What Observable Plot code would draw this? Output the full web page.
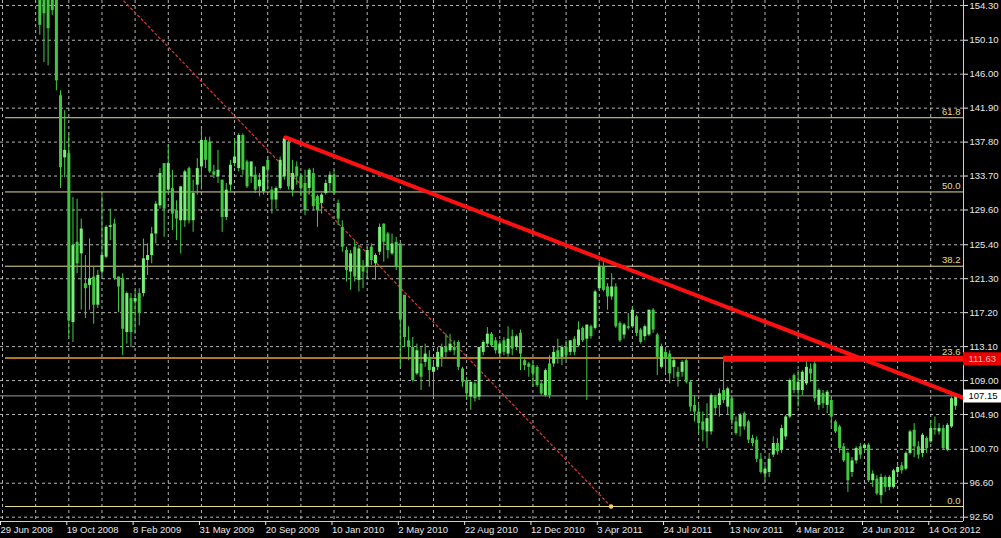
<!DOCTYPE html>
<html>
<head>
<meta charset="utf-8">
<script src="https://cdn.jsdelivr.net/npm/d3@7"></script>
<script src="https://cdn.jsdelivr.net/npm/@observablehq/plot@0.6"></script>
<style>
html, body { margin: 0; padding: 0; background: #000; }
#chart svg { display: block; }
</style>
</head>
<body>
<div id="chart"></div>
<script>
// ---- Data (weekly candles, bar index 0 = week of 29 Jun 2008) ----
const weekStart = "2008-06-29";
const firstIndex = 9;
const opens = [156.5,156.0,155.6,155.5,155.3,143.4,135.9,136.4,116.0,125.7,124.3,120.7,120.5,121.5,118.1,122.1,123.9,127.5,127.9,121.5,121.3,114.8,118.9,118.5,119.5,119.5,123.5,124.1,126.7,130.1,135.2,132.0,132.2,129.5,128.3,128.3,134.6,128.3,132.6,134.8,138.0,137.8,134.2,133.6,133.2,128.7,132.6,135.2,134.6,138.6,135.4,133.6,133.8,132.4,131.8,135.6,132.0,130.8,132.2,133.6,137.8,132.0,134.8,133.6,132.8,132.2,134.0,131.2,130.4,131.6,132.8,133.8,130.4,127.5,124.7,122.1,125.1,121.1,122.7,122.7,125.1,123.1,124.5,127.9,126.7,124.3,125.7,125.5,119.3,113.8,113.0,109.8,111.0,111.2,111.8,110.0,110.6,111.8,113.0,112.6,113.0,113.6,110.4,109.0,107.0,108.6,107.0,112.4,113.4,114.6,113.8,112.2,113.8,112.2,114.3,113.0,114.7,111.4,111.0,110.8,110.6,108.6,107.2,111.0,111.0,112.6,111.8,113.0,112.4,114.0,113.2,115.3,114.0,115.5,115.3,120.1,122.7,120.3,119.1,120.3,115.9,114.5,115.5,115.5,116.7,115.1,114.3,114.5,117.5,114.5,110.6,112.4,112.2,110.6,110.0,110.0,111.4,108.8,106.0,105.2,104.0,102.8,102.8,107.0,106.0,107.8,105.8,106.8,104.0,103.4,105.0,104.0,102.0,101.8,99.5,97.7,97.9,100.0,101.4,100.6,102.2,104.6,109.6,107.8,107.8,108.6,110.4,111.0,106.0,107.4,106.0,106.6,104.0,103.4,101.0,100.2,97.9,99.3,101.0,100.8,101.2,96.9,97.1,95.1,97.3,96.1,96.1,97.9,98.7,98.3,100.2,103.0,101.0,100.2,102.0,101.6,103.2,102.8,103.2,100.6,103.4,105.9];
const highs = [157.0,156.5,156.0,156.0,155.8,144.0,141.6,138.8,131.1,130.9,128.5,124.1,126.1,122.7,122.3,131.3,127.7,129.7,128.5,121.5,121.9,119.7,119.5,119.9,120.1,126.1,125.5,127.5,130.6,134.6,135.2,137.4,134.4,130.7,132.4,134.4,134.8,133.2,135.8,139.4,138.4,138.4,135.0,136.8,133.2,132.8,135.6,138.2,138.8,138.8,135.6,135.4,134.8,134.0,134.8,136.0,132.4,132.4,136.0,138.4,138.0,135.6,135.4,134.0,134.4,134.6,134.6,131.4,131.6,133.2,134.2,134.4,130.8,128.3,125.1,124.7,125.9,125.3,123.5,125.1,125.5,124.3,127.9,127.9,126.9,126.7,126.3,125.5,119.3,115.5,114.2,113.4,113.0,113.4,112.6,111.4,113.0,113.4,114.6,114.6,113.8,113.8,110.6,109.4,108.8,108.8,113.0,113.8,115.4,114.8,114.2,113.8,114.2,115.5,115.1,114.5,115.1,111.6,111.2,111.2,110.8,109.0,110.4,112.0,113.0,114.0,113.2,113.8,113.8,114.3,116.1,115.5,115.7,115.7,119.9,123.3,123.3,120.7,121.9,120.7,116.1,115.9,117.1,117.9,116.9,115.3,115.7,117.5,117.7,114.7,113.4,113.0,112.6,111.8,110.6,111.4,111.6,109.0,107.2,106.0,105.2,106.2,107.4,107.2,108.0,111.4,108.2,107.0,104.6,105.0,105.2,104.2,102.4,102.2,100.2,98.7,100.2,102.2,102.0,103.6,104.8,109.2,109.8,110.2,110.2,111.4,111.0,111.4,108.0,107.8,107.8,106.8,104.2,103.6,101.4,100.4,99.7,101.0,101.4,101.4,101.4,98.1,97.5,97.7,97.5,97.5,98.3,98.9,99.1,100.4,103.0,103.8,101.6,102.6,102.2,104.2,104.6,103.8,103.6,103.8,107.0,107.3];
const lows = [150.7,147.4,147.0,153.1,144.0,132.2,133.5,114.2,113.6,121.9,117.5,116.5,117.5,115.8,117.7,121.5,123.7,125.9,121.1,117.2,112.0,113.4,113.0,114.6,115.6,119.1,121.7,123.1,125.5,129.7,126.3,131.6,127.1,125.9,124.3,127.5,127.9,126.9,131.4,132.0,134.6,134.0,133.4,132.8,126.9,128.3,131.8,134.8,134.2,133.8,132.2,132.8,131.6,131.2,131.4,132.0,129.1,129.7,132.0,133.2,132.0,131.2,132.6,131.2,128.9,131.4,129.5,127.5,129.1,131.4,131.8,131.4,127.7,124.5,120.9,119.9,120.9,119.7,120.1,121.3,122.9,121.1,124.1,123.3,123.7,124.1,122.3,110.6,113.0,111.4,108.8,109.6,107.8,110.6,108.2,107.0,110.2,110.6,111.8,112.4,112.0,110.2,108.2,106.6,105.4,106.4,106.6,112.0,113.0,113.0,112.2,111.6,112.0,111.8,112.0,112.6,110.2,110.2,109.4,108.2,108.2,107.2,107.0,106.8,110.6,111.0,110.8,111.4,112.0,112.0,113.0,113.6,106.6,114.0,115.1,119.9,119.7,117.5,118.7,115.3,113.6,114.0,115.1,115.3,114.3,113.4,113.8,114.3,114.7,109.6,110.4,109.8,108.6,109.2,108.2,109.4,108.6,105.2,104.0,102.6,101.6,100.8,102.4,104.8,104.6,106.2,104.8,103.6,102.4,102.2,103.0,101.4,101.0,99.1,97.7,96.9,97.3,99.7,100.0,100.2,101.8,104.4,107.4,105.8,107.2,108.4,108.8,106.4,105.4,105.6,105.0,103.4,102.6,100.2,99.1,95.5,97.3,98.9,99.5,100.4,96.7,96.1,95.1,94.1,95.5,95.7,95.9,97.5,97.7,98.1,100.0,99.7,99.5,99.7,100.2,101.4,102.4,102.4,100.6,100.4,103.2,105.4];
const closes = [151.9,153.3,151.5,153.7,145.2,134.7,136.8,116.2,125.3,123.1,127.3,120.1,121.3,118.1,121.7,124.1,127.5,127.7,121.3,120.3,115.2,119.5,114.8,118.9,117.1,123.7,124.1,126.7,130.3,134.0,129.7,135.2,129.1,128.5,132.4,134.2,128.3,131.6,134.6,138.0,135.6,134.2,133.8,134.4,128.7,132.0,135.0,136.0,138.6,134.4,132.4,135.4,132.0,133.2,134.8,134.4,130.8,132.2,135.6,138.2,132.4,134.0,133.6,132.2,129.5,134.4,130.0,129.5,131.4,132.8,133.8,131.6,128.5,125.1,122.3,124.3,121.5,124.9,122.1,124.7,123.5,124.1,127.5,125.7,124.7,125.5,122.7,116.3,114.2,113.0,109.0,112.6,109.4,112.2,110.2,110.6,112.4,113.0,112.4,113.4,112.6,110.6,108.8,107.4,108.8,106.8,113.0,113.6,114.6,113.2,112.6,113.4,112.4,114.0,112.8,114.3,112.2,110.8,110.6,109.8,108.4,107.4,110.2,107.2,112.4,111.6,113.0,112.0,113.8,112.4,115.1,113.8,115.7,114.3,119.7,122.7,119.9,119.1,120.3,115.5,113.8,115.7,115.3,117.5,114.7,113.6,115.5,117.5,115.1,111.8,113.0,111.6,109.8,111.4,109.4,111.2,108.8,105.8,105.2,103.8,103.0,104.4,107.2,105.6,107.4,106.6,108.0,104.2,102.6,104.8,103.4,101.8,101.4,99.5,97.9,98.3,99.5,101.4,100.4,103.2,104.6,109.0,107.8,108.8,110.0,110.6,109.8,106.8,107.8,106.2,107.6,104.6,102.8,100.8,99.3,96.9,99.3,100.8,100.0,101.2,96.9,97.7,95.3,97.3,96.1,97.3,98.1,98.5,98.1,100.2,102.8,101.0,100.0,102.4,100.8,103.2,103.0,103.2,100.8,103.6,106.8,107.15];

const yTicks = [154.30,150.10,146.00,141.90,137.80,133.70,129.60,125.40,121.30,117.20,113.10,109.00,104.90,100.70,96.60,92.50];
const xTickDates = ["2008-06-29","2008-10-19","2009-02-08","2009-05-31","2009-09-20","2010-01-10","2010-05-02","2010-08-22","2010-12-12","2011-04-03","2011-07-24","2011-11-13","2012-03-04","2012-06-24","2012-10-14"];

const fibLevels = ["0.0","23.6","38.2","50.0","61.8"];
const fibPrices = [93.79,111.72,122.81,131.78,140.74];
const fibLineStart = "2008-07-04";

const fibDiagDates = ["2008-06-29","2011-04-23"];
const fibDiagPrices = [170.06,93.79];

const trendDates = ["2009-10-20","2012-12-15"];
const trendPrices = [138.36,106.72];

const resistancePrice = 111.63;
const resistanceStart = "2011-10-30";
const lastPrice = 107.15;

// ---- Build ----
const DAY = 864e5;
const d0 = new Date(weekStart + "T00:00:00Z");
const bars = opens.map((o, k) => ({
  date: new Date(+d0 + (firstIndex + k) * 7 * DAY),
  open: o, high: highs[k], low: lows[k], close: closes[k]
}));
const toDate = s => new Date(s + "T00:00:00Z");
const xDomain = [new Date(+d0 - 3.4 * DAY), new Date(+d0 + 1623.3 * DAY)];
const labelEnd = new Date(+d0 + 1690 * DAY);
const yDomain = [91.98, 154.90];
const gridDates = d3.range(0, 30).map(k => new Date(+d0 + k * 56 * DAY)).filter(d => d <= xDomain[1]);
const fibData = fibLevels.map((l, k) => ({level: l, price: fibPrices[k]}));
const fibDiag = fibDiagDates.map((d, k) => ({date: toDate(d), price: fibDiagPrices[k]}));
const trend = trendDates.map((d, k) => ({date: toDate(d), price: trendPrices[k]}));
const tickDates = xTickDates.map(toDate);

const gridStyle = {stroke: "#c8c8c8", strokeOpacity: 0.9, strokeDasharray: "3,3", strokeWidth: 1};
const font = "'Liberation Sans', Arial, sans-serif";

const chart = Plot.plot({
  width: 1001,
  height: 538,
  marginTop: 0,
  marginRight: 38,
  marginBottom: 17,
  marginLeft: 0,
  style: {background: "#000", color: "#e8e8e8", fontFamily: font, fontSize: "9.5px"},
  x: {type: "utc", domain: xDomain, axis: null, label: null},
  y: {domain: yDomain, axis: null, label: null},
  marks: [
    Plot.gridY(yTicks, gridStyle),
    Plot.gridX(gridDates, gridStyle),
    Plot.ruleY(fibData.filter(d => d.level !== "23.6"), {y: "price", x1: () => toDate(fibLineStart), x2: () => xDomain[1], stroke: "#e2dc8c", strokeWidth: 1}),
    Plot.ruleY(fibData.filter(d => d.level === "23.6"), {y: "price", x1: () => toDate(fibLineStart), x2: () => xDomain[1], stroke: "#f0a030", strokeWidth: 1.5}),
    Plot.text(fibData, {y: "price", text: "level", frameAnchor: "right", textAnchor: "end", dx: -3, dy: -6, fill: "#e2dc8c", fontSize: 9.5}),
    Plot.line(fibDiag, {x: "date", y: "price", stroke: "#d03434", strokeWidth: 1.3, strokeDasharray: "2,3", clip: true}),
    Plot.ruleY([lastPrice], {stroke: "#9a9a9a", strokeWidth: 1}),
    Plot.ruleX(bars, {x: "date", y1: "low", y2: "high", stroke: "#3fcf3f", strokeWidth: 1, clip: true}),
    Plot.ruleX(bars, {x: "date", y1: "open", y2: "close", stroke: d => d.close >= d.open ? "bull" : "bear", strokeWidth: 3, clip: true}),
    Plot.dot([fibDiag[1]], {x: "date", y: "price", r: 2.2, fill: "#ffd060", stroke: "none"}),
    Plot.ruleY([resistancePrice], {x1: () => toDate(resistanceStart), x2: () => xDomain[1], stroke: "#ff1010", strokeWidth: 6}),
    Plot.line(trend, {x: "date", y: "price", stroke: "#ff1010", strokeWidth: 4}),
    Plot.ruleX([xDomain[1]], {stroke: "#cfcfcf", strokeWidth: 1}),
    Plot.ruleY([yDomain[0]], {stroke: "#cfcfcf", strokeWidth: 1}),
    Plot.axisY(yTicks, {anchor: "right", tickFormat: d => d.toFixed(2), tickSize: 4, tickPadding: 2, label: null, color: "#e8e8e8"}),
    Plot.axisX(tickDates, {anchor: "bottom", tickFormat: d3.utcFormat("%-d %b %Y"), textAnchor: "start", dx: -2, tickSize: 4, tickPadding: 1, label: null, color: "#e8e8e8"}),
    Plot.ruleY([resistancePrice], {x1: () => xDomain[1], x2: () => labelEnd, stroke: "#e80000", strokeWidth: 13}),
    Plot.text([resistancePrice], {y: d => d, text: d => d.toFixed(2), frameAnchor: "right", textAnchor: "start", dx: 5, fill: "#ffb8b8", fontSize: 9.5}),
    Plot.ruleY([lastPrice], {x1: () => xDomain[1], x2: () => labelEnd, stroke: "#ffffff", strokeWidth: 13}),
    Plot.text([lastPrice], {y: d => d, text: d => d.toFixed(2), frameAnchor: "right", textAnchor: "start", dx: 5, fill: "#000", fontSize: 9.5})
  ],
  color: {domain: ["bull", "bear"], range: ["#78f078", "#40c840"]}
});
document.getElementById("chart").appendChild(chart);
</script>
</body>
</html>
